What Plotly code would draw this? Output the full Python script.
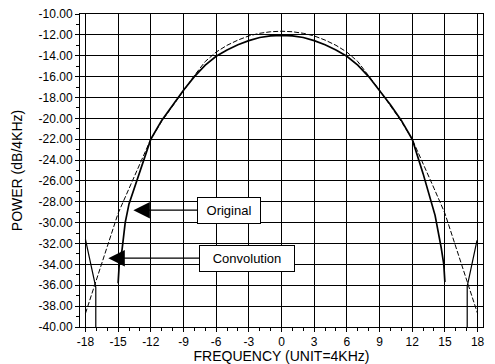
import plotly.graph_objects as go

# Frequency axis (unit = 4 kHz) and power axis (dB / 4 kHz) tick labels
x_tick_vals = [-18, -15, -12, -9, -6, -3, 0, 3, 6, 9, 12, 15, 18]
x_tick_text = ["-18", "-15", "-12", "-9", "-6", "-3", "0", "3", "6", "9", "12", "15", "18"]
y_tick_vals = [-10, -12, -14, -16, -18, -20, -22, -24, -26, -28, -30, -32, -34, -36, -38, -40]
y_tick_text = ["-10.00", "-12.00", "-14.00", "-16.00", "-18.00", "-20.00", "-22.00", "-24.00",
               "-26.00", "-28.00", "-30.00", "-32.00", "-34.00", "-36.00", "-38.00", "-40.00"]

# Original spectrum
orig_freq = [-15.0, -14.9, -14.64, -14.35, -14.0, -13.0, -12.0, -11.0, -10.0, -9.0, -8.0,
             -7.0, -6.0, -5.0, -4.0, -3.0, -2.0, -1.0, 0.0, 1.0, 2.0, 3.0, 4.0, 5.0, 6.0,
             7.0, 8.0, 9.0, 10.0, 11.0, 12.0, 13.0, 13.6, 14.1, 14.66, 14.9, 15.0]
orig_power = [-35.8, -34.0, -32.6, -30.0, -28.2, -25.0, -22.0, -20.2, -18.7, -17.3, -16.0,
              -14.9, -14.05, -13.45, -12.95, -12.55, -12.25, -12.1, -12.05, -12.1, -12.25,
              -12.55, -12.95, -13.45, -14.05, -14.9, -16.0, -17.3, -18.7, -20.2, -22.0,
              -25.3, -27.6, -29.3, -32.4, -34.0, -35.7]

# Spectrum after convolution
conv_freq = [-18.0, -17.0, -16.0, -15.0, -14.0, -13.0, -12.0, -11.0, -10.0, -9.0, -8.0,
             -7.0, -6.0, -5.0, -4.0, -3.0, -2.0, -1.0, 0.0, 1.0, 2.0, 3.0, 4.0, 5.0, 6.0,
             7.0, 8.0, 9.0, 10.0, 11.0, 12.0, 13.0, 14.0, 15.0, 16.0, 17.0, 18.0]
conv_power = [-38.7, -35.6, -32.3, -29.1, -26.7, -24.3, -22.0, -20.3, -18.8, -17.3, -15.9,
              -14.55, -13.65, -13.0, -12.5, -12.1, -11.85, -11.7, -11.65, -11.7, -11.85,
              -12.1, -12.5, -13.0, -13.65, -14.55, -15.9, -17.3, -18.8, -20.3, -22.0,
              -24.3, -26.7, -29.1, -32.3, -35.5, -38.7]

# Wrap-around lobes of the convolved spectrum near the band edges
wrap_freq = [-18.0, -17.05, -17.05, None, 17.05, 17.05, 17.95]
wrap_power = [-31.6, -36.2, -40.0, None, -40.0, -36.1, -31.7]

FONT = "Arial, Liberation Sans, sans-serif"

fig = go.Figure()
fig.add_trace(go.Scatter(x=conv_freq, y=conv_power, mode="lines", name="Convolution",
                         line=dict(color="black", width=1, dash="5px,2px")))
fig.add_trace(go.Scatter(x=wrap_freq, y=wrap_power, mode="lines", name="Convolution wrap",
                         line=dict(color="black", width=1.2)))
fig.add_trace(go.Scatter(x=orig_freq, y=orig_power, mode="lines", name="Original",
                         line=dict(color="black", width=1.7)))

label_boxes = [
    # text, arrow tip (x, y), box centre (x, y), box width
    ("Original", (-13.6, -28.8), (-4.82, -28.8), 54),
    ("Convolution", (-15.9, -33.4), (-3.17, -33.4), 86),
]
for text, (tx, ty), (bx, by), w in label_boxes:
    fig.add_annotation(
        x=tx, y=ty, ax=bx, ay=by, xref="x", yref="y", axref="x", ayref="y",
        text=text, showarrow=True, arrowhead=2, arrowsize=3, arrowwidth=1.1,
        arrowcolor="black", standoff=0, startstandoff=0,
        font=dict(family=FONT, size=13, color="black"),
        bgcolor="white", bordercolor="black", borderwidth=1, borderpad=4,
        width=w, height=17, align="center",
    )

fig.update_layout(
    width=495, height=364,
    margin=dict(l=80, r=12, t=14, b=37),
    paper_bgcolor="white", plot_bgcolor="white",
    showlegend=False,
    font=dict(family=FONT, size=12, color="black"),
)
fig.update_xaxes(
    range=[-18.5, 18.5], tickmode="array", tickvals=x_tick_vals, ticktext=x_tick_text,
    automargin=False,
    showgrid=True, gridcolor="black", gridwidth=1, zeroline=False,
    showline=True, linecolor="black", linewidth=1, mirror=True,
    ticks="outside", ticklen=4, tickcolor="black",
    minor=dict(tickmode="linear", tick0=0, dtick=1, ticks="outside", ticklen=3,
               tickcolor="black", showgrid=False),
    tickfont=dict(family=FONT, size=12),
    title=dict(text="FREQUENCY (UNIT=4KHz)", font=dict(family=FONT, size=14), standoff=2),
)
fig.update_yaxes(
    range=[-40, -10], tickmode="array", tickvals=y_tick_vals, ticktext=y_tick_text,
    automargin=False,
    showgrid=True, gridcolor="black", gridwidth=1, zeroline=False,
    showline=True, linecolor="black", linewidth=1, mirror=True,
    ticks="outside", ticklen=4, tickcolor="black",
    minor=dict(tickmode="linear", tick0=-11, dtick=2, ticks="outside", ticklen=3,
               tickcolor="black", showgrid=False),
    tickfont=dict(family=FONT, size=12),
    title=dict(text="POWER (dB/4KHz)", font=dict(family=FONT, size=14), standoff=12),
)

fig.write_html("out.html")
